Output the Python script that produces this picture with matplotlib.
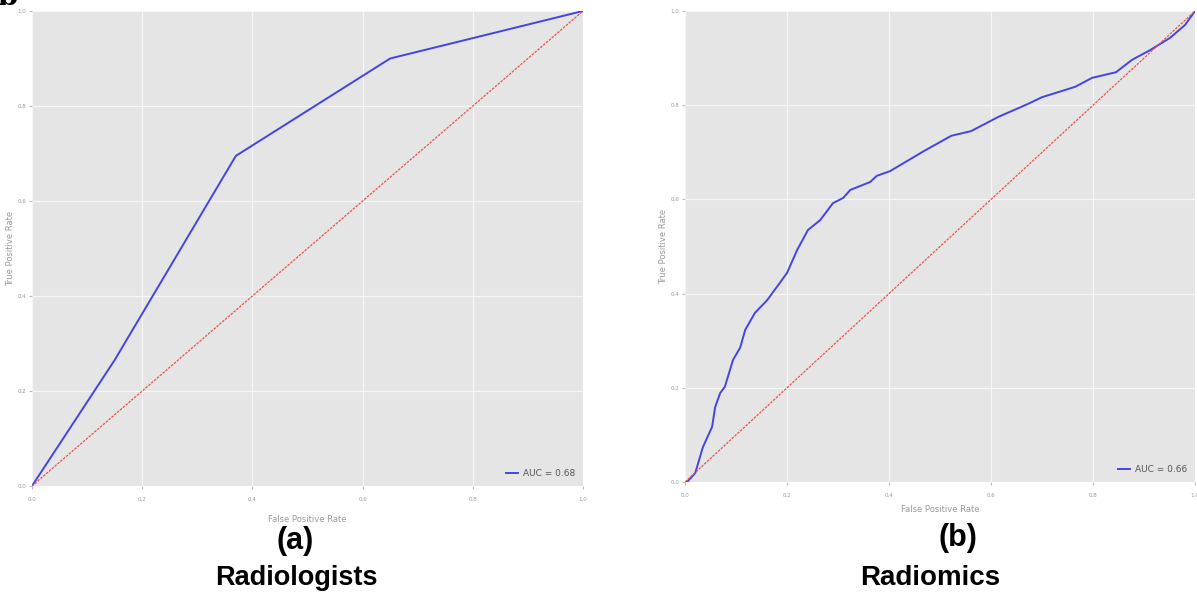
import numpy as np
import matplotlib.pyplot as plt

plt.style.use("ggplot")

# ── Data ─────────────────────────────────────────────────────────────────────
rad_fpr = [0.0, 0.15, 0.37, 0.65, 1.0]
rad_tpr = [0.0, 0.265, 0.695, 0.90, 1.0]
rad_auc = 0.68

rdm_fpr = [0.0, 0.004, 0.020, 0.035, 0.053, 0.059, 0.069, 0.078, 0.094, 0.108,
           0.118, 0.137, 0.161, 0.186, 0.200, 0.220, 0.225, 0.241, 0.265, 0.290,
           0.310, 0.324, 0.363, 0.376, 0.402, 0.469, 0.522, 0.561, 0.614, 0.673,
           0.700, 0.765, 0.798, 0.845, 0.876, 0.912, 0.951, 0.980, 1.0]
rdm_tpr = [0.0, 0.0, 0.019, 0.074, 0.117, 0.159, 0.189, 0.202, 0.259, 0.285,
           0.323, 0.359, 0.386, 0.423, 0.444, 0.493, 0.503, 0.535, 0.556, 0.592,
           0.603, 0.620, 0.637, 0.650, 0.660, 0.703, 0.735, 0.745, 0.775, 0.803,
           0.817, 0.839, 0.858, 0.870, 0.896, 0.917, 0.943, 0.970, 1.0]
rdm_auc = 0.66

ticks = [0.0, 0.2, 0.4, 0.6, 0.8, 1.0]
tick_labels = ["0.0", "0.2", "0.4", "0.6", "0.8", "1.0"]

# ── Figure ───────────────────────────────────────────────────────────────────
fig = plt.figure(figsize=(11.97, 5.93), dpi=100)
ax_a = fig.add_axes([0.0267, 0.1804, 0.4604, 0.8011])
ax_b = fig.add_axes([0.5723, 0.1872, 0.4261, 0.7943])

panels = [
    (ax_a, rad_fpr, rad_tpr, rad_auc, 9),
    (ax_b, rdm_fpr, rdm_tpr, rdm_auc, 5),
]

for ax, fpr, tpr, auc, xpad in panels:
    ax.set_facecolor("#E5E5E5")
    ax.plot(fpr, tpr, color="#4444E6", linewidth=1.4, label=f"AUC = {auc:.2f}")
    ax.plot([0, 1], [0, 1], color="#E8504A", linestyle="--", linewidth=0.9,
            dashes=(2, 1))
    ax.set_xlim(0, 1)
    ax.set_ylim(0, 1)
    ax.set_xticks(ticks)
    ax.set_yticks(ticks)
    ax.set_xticklabels(tick_labels, fontsize=4, color="#999999")
    ax.set_yticklabels(tick_labels, fontsize=4, color="#999999")
    ax.tick_params(axis="x", length=2, color="#BBBBBB", pad=6)
    ax.tick_params(axis="y", length=2, color="#BBBBBB", pad=2)
    ax.grid(True, color="white", linewidth=0.8, alpha=0.7)
    for sp in ax.spines.values():
        sp.set_visible(False)
    ax.set_xlabel("False Positive Rate", fontsize=6, color="#999999",
                  labelpad=xpad)
    ax.set_ylabel("True Positive Rate", fontsize=6, color="#999999", labelpad=2)
    leg = ax.legend(loc="lower right", fontsize=6.5, frameon=False,
                    handlelength=1.3, handletextpad=0.5)
    for t in leg.get_texts():
        t.set_color("#555555")

# captions below each panel
fig.text(0.2465, 0.088, "(a)", ha="center", va="center", fontsize=22,
         fontweight="bold", family="Liberation Sans")
fig.text(0.248, 0.025, "Radiologists", ha="center", va="center", fontsize=19.5,
         fontweight="bold", family="Liberation Sans")
fig.text(0.8, 0.093, "(b)", ha="center", va="center", fontsize=22,
         fontweight="bold", family="Liberation Sans")
fig.text(0.777, 0.025, "Radiomics", ha="center", va="center", fontsize=20,
         fontweight="bold", family="Liberation Sans")

# cut-off panel letter in the corner
fig.text(-0.002, 1.006, "b", ha="left", va="center", fontsize=21,
         fontweight="bold", family="DejaVu Serif")

fig.savefig("out.png", dpi=100)
